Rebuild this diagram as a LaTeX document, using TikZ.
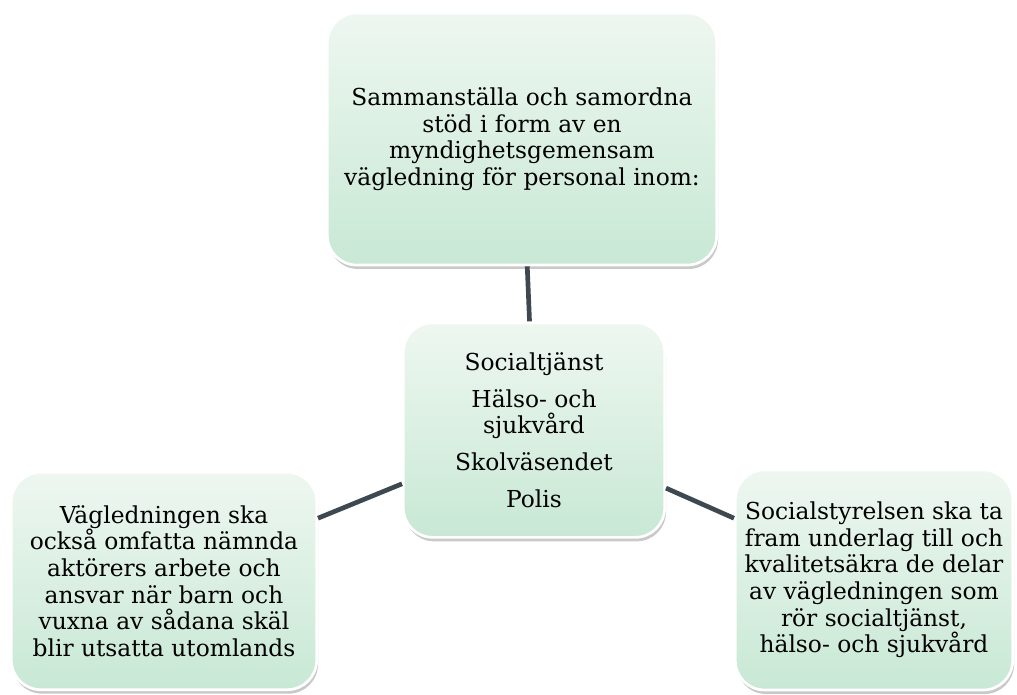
\documentclass[tikz,border=0pt]{standalone}
\usepackage{fontspec}
\setmainfont{DejaVu Serif}
\usetikzlibrary{shadows}
\definecolor{boxtop}{RGB}{238,247,240}
\definecolor{boxbot}{RGB}{200,232,213}
\definecolor{linkgray}{RGB}{62,72,80}
\begin{document}
\begin{tikzpicture}[x=0.75pt,y=-0.75pt,
    box/.style={rounded corners=22pt, top color=boxtop, bottom color=boxbot,
      draw=white, line width=2pt, align=center, inner sep=0pt,
      drop shadow={shadow xshift=1pt, shadow yshift=-3pt, opacity=0.3, fill=black!70},
      font=\fontsize{17.5}{20}\selectfont},
    link/.style={draw=linkgray, line width=3.5pt}]
    \useasboundingbox (0,0) rectangle (1017,695);
    % the four boxes
    \node[box, minimum width=292pt, minimum height=189pt] (uppdrag) at (522,139)
      {Sammanställa och samordna\\stöd i form av en\\myndighetsgemensam\\vägledning för personal inom:};
    \node[box, minimum width=196pt, minimum height=161pt] (aktorer) at (534,430)
      {Socialtjänst\\[7.5pt]Hälso- och\\sjukvård\\[7.5pt]Skolväsendet\\[7.5pt]Polis};
    \node[box, minimum width=229pt, minimum height=163pt] (utland) at (164,581)
      {Vägledningen ska\\också omfatta nämnda\\aktörers arbete och\\ansvar när barn och\\vuxna av sådana skäl\\blir utsatta utomlands};
    \node[box, minimum width=208pt, minimum height=165pt] (sos) at (874,580)
      {Socialstyrelsen ska ta\\fram underlag till och\\kvalitetsäkra de delar\\av vägledningen som\\rör socialtjänst,\\hälso- och sjukvård};
    % connectors
    \draw[link] (uppdrag) -- (aktorer);
    \draw[link] (aktorer) -- (utland);
    \draw[link] (aktorer) -- (sos);
\end{tikzpicture}
\end{document}
